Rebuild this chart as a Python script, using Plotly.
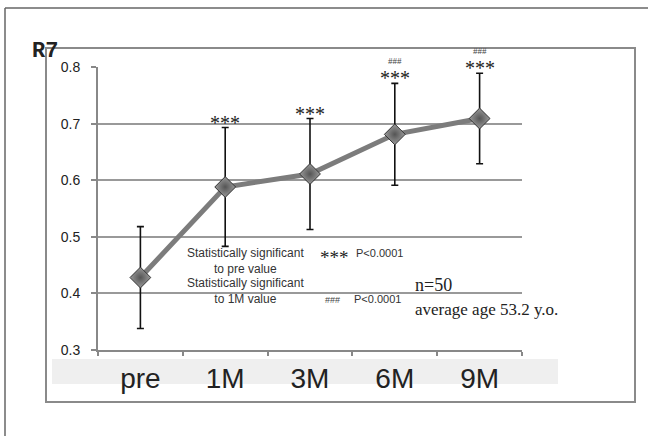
import plotly.graph_objects as go

categories = ["pre", "1M", "3M", "6M", "9M"]
means = [0.428, 0.588, 0.611, 0.681, 0.709]
errors = [0.090, 0.105, 0.098, 0.090, 0.080]
sig_pre = ["", "***", "***", "***", "***"]
sig_1m = ["", "", "", "###", "###"]
yticks = [0.3, 0.4, 0.5, 0.6, 0.7, 0.8]

W, H = 648, 436
def px(x):
    return x / W
def py(y):
    return 1 - y / H

fig = go.Figure()
fig.add_trace(go.Scatter(
    x=categories, y=means, mode="lines+markers",
    line=dict(color="#7c7c7c", width=5),
    marker=dict(symbol="diamond", size=16, color="#9a9a9a",
                gradient=dict(type="radial", color="#555555"),
                line=dict(color="#333333", width=1)),
    error_y=dict(type="data", array=errors, visible=True,
                 color="#111111", thickness=1.6, width=3.5),
    showlegend=False,
))

annotations = []
for c, m, e, s1, s2 in zip(categories, means, errors, sig_pre, sig_1m):
    if s1:
        annotations.append(dict(x=c, y=m + e, xref="x", yref="y", text=s1,
                                showarrow=False, yanchor="middle", yshift=5,
                                font=dict(family="Liberation Serif", size=20, color="#222")))
    if s2:
        annotations.append(dict(x=c, y=m + e, xref="x", yref="y", text=s2,
                                showarrow=False, yanchor="middle", yshift=22,
                                font=dict(family="Liberation Serif", size=9, color="#444")))

legend_font = dict(family="Liberation Sans", size=12, color="#333")
annotations += [
    dict(x=px(245), y=py(261), xref="paper", yref="paper", showarrow=False,
         text="Statistically significant<br>to pre value", font=legend_font, align="center"),
    dict(x=px(245), y=py(308), xref="paper", yref="paper", showarrow=False,
         text="Statistically significant<br>to 1M value", font=legend_font, align="center"),
    dict(x=px(334), y=py(257), xref="paper", yref="paper", showarrow=False,
         text="***", font=dict(family="Liberation Serif", size=19, color="#222")),
    dict(x=px(354), y=py(253), xref="paper", yref="paper", showarrow=False, xanchor="left",
         text="P<0.0001", font=dict(family="Liberation Sans", size=11, color="#333")),
    dict(x=px(333), y=py(307), xref="paper", yref="paper", showarrow=False,
         text="###", font=dict(family="Liberation Sans", size=9, color="#444")),
    dict(x=px(352), y=py(307), xref="paper", yref="paper", showarrow=False, xanchor="left",
         text="P<0.0001", font=dict(family="Liberation Sans", size=11, color="#333")),
    dict(x=px(413), y=py(297), xref="paper", yref="paper", showarrow=False, xanchor="left",
         text="n=50", font=dict(family="Liberation Serif", size=18, color="#222")),
    dict(x=px(413), y=py(321), xref="paper", yref="paper", showarrow=False, xanchor="left",
         text="average age 53.2 y.o.", font=dict(family="Liberation Serif", size=17, color="#222")),
    dict(x=px(30), y=py(37), xref="paper", yref="paper", showarrow=False, xanchor="left",
         text="<b>R7</b>", font=dict(family="Liberation Mono", size=22, color="#222")),
]

shapes = [
    # outer frame
    dict(type="line", xref="paper", yref="paper", x0=px(5), x1=px(5), y0=py(8), y1=0,
         line=dict(color="#666", width=1.5)),
    dict(type="line", xref="paper", yref="paper", x0=px(5), x1=1, y0=py(8), y1=py(8),
         line=dict(color="#666", width=1.5)),
    # inner box
    dict(type="rect", xref="paper", yref="paper", x0=px(46), x1=px(635), y0=py(402), y1=py(48),
         line=dict(color="#8a8a8a", width=2), layer="below"),
    # category band
    dict(type="rect", xref="paper", yref="paper", x0=px(52), x1=px(558), y0=py(384), y1=py(359),
         fillcolor="#efefef", line=dict(width=0), layer="below"),
]

fig.update_layout(
    width=W, height=H, margin=dict(l=0, r=0, t=0, b=0, autoexpand=False),
    paper_bgcolor="white", plot_bgcolor="rgba(0,0,0,0)",
    annotations=annotations, shapes=shapes,
    xaxis=dict(type="category", domain=[px(98), px(522)], range=[-0.5, 4.5], automargin=False,
               tickson="boundaries", ticks="outside", ticklen=4, tickcolor="#888", tickwidth=1.5,
               showline=True, linecolor="#888", linewidth=2, showgrid=False,
               tickfont=dict(family="Liberation Sans", size=28, color="#222"),
               ticklabelstandoff=2),
    yaxis=dict(domain=[py(350), py(67)], range=[0.3, 0.8], tickvals=yticks, automargin=False,
               ticktext=[f"{v:.1f}" for v in yticks],
               ticks="outside", ticklen=5, tickcolor="#888", tickwidth=1.5,
               showline=True, linecolor="#888", linewidth=2,
               showgrid=True, gridcolor="#999", gridwidth=1.5, zeroline=False,
               tickfont=dict(family="Liberation Sans", size=14, color="#222"),
               ticklabelstandoff=8),
)

fig.write_html("out.html")
